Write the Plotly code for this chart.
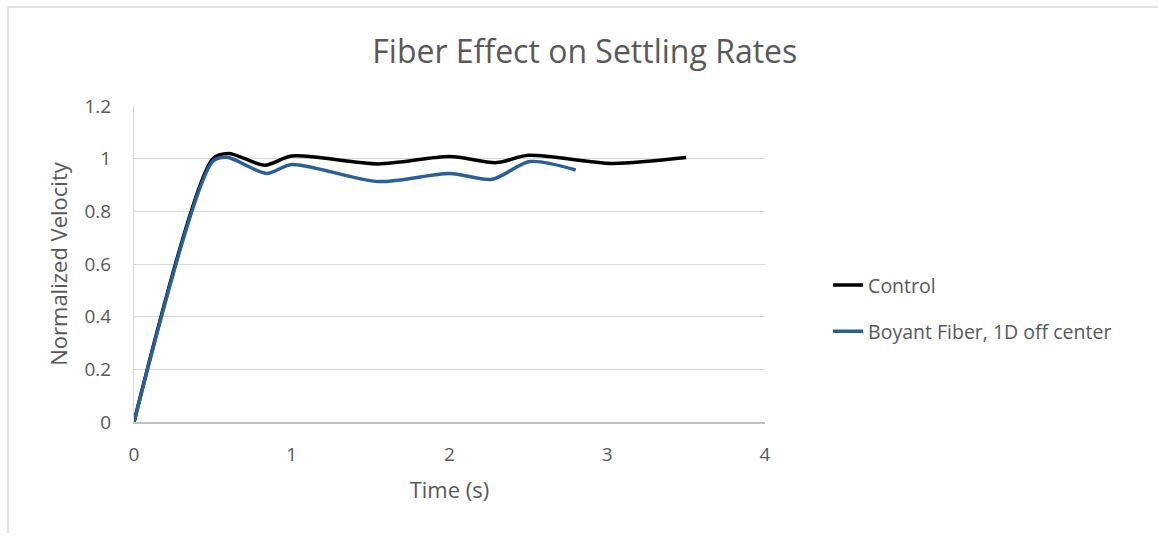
import plotly.graph_objects as go

# Settling velocity over time, normalized
control_t = [0, 0.5, 0.6, 0.83, 1.0, 1.55, 2.0, 2.3, 2.5, 3.03, 3.5]
control_v = [0, 1.0, 1.02, 0.975, 1.01, 0.98, 1.008, 0.985, 1.013, 0.982, 1.004]

fiber_t = [0, 0.5, 0.59, 0.84, 1.0, 1.55, 2.0, 2.27, 2.51, 2.8]
fiber_v = [0, 0.99, 1.005, 0.944, 0.978, 0.913, 0.944, 0.922, 0.989, 0.957]

x_ticks = [0, 1, 2, 3, 4]
y_ticks = [0, 0.2, 0.4, 0.6, 0.8, 1.0, 1.2]
y_tick_text = ["0", "0.2", "0.4", "0.6", "0.8", "1", "1.2"]

FONT = "Open Sans"
TEXT = "#595959"

fig = go.Figure()
fig.add_trace(go.Scatter(
    x=control_t, y=control_v, name="Control", mode="lines",
    line=dict(color="#000000", width=3.5, shape="spline", smoothing=0.8),
    legendgroup="a",
))
fig.add_trace(go.Scatter(
    x=fiber_t, y=fiber_v, name="Boyant Fiber, 1D off center", mode="lines",
    line=dict(color="#2a6099", width=3.5, shape="spline", smoothing=0.8),
    legendgroup="b",
))

fig.update_layout(
    width=1158, height=535,
    margin=dict(l=134, r=393, t=106, b=113),
    paper_bgcolor="white", plot_bgcolor="white",
    font=dict(family=FONT, color=TEXT, size=18),
    title=dict(text="Fiber Effect on Settling Rates", x=0.505, xanchor="center",
               y=0.903, yanchor="middle", font=dict(size=32, color=TEXT)),
    legend=dict(x=1.1, y=0.36, xanchor="left", yanchor="middle",
                font=dict(size=19.5, color=TEXT), tracegroupgap=18,
                bgcolor="rgba(0,0,0,0)"),
    xaxis=dict(
        range=[0, 4], tickvals=x_ticks, showgrid=False, zeroline=False,
        showline=True, linecolor="#bfbfbf", linewidth=1.5,
        ticks="outside", ticklen=14, tickcolor="rgba(0,0,0,0)",
        tickfont=dict(size=19, color=TEXT),
        title=dict(text="Time (s)", font=dict(size=22, color=TEXT), standoff=17),
    ),
    yaxis=dict(
        range=[0, 1.2], tickvals=y_ticks, ticktext=y_tick_text,
        showgrid=True, gridcolor="#d9d9d9", gridwidth=1.2, zeroline=False,
        showline=True, linecolor="#d9d9d9", linewidth=1.2,
        ticks="outside", ticklen=18, tickcolor="rgba(0,0,0,0)",
        tickfont=dict(size=19, color=TEXT),
        title=dict(text="Normalized Velocity", font=dict(size=22, color=TEXT), standoff=10),
    ),
)

# Chart-area frame (left and top edges)
px_w, px_h = 631.0, 316.0
left = (8 - 134) / px_w
top = (422 - 7) / px_h
bottom = (422 - 533) / px_h
right = (1170 - 134) / px_w
fig.add_shape(type="line", xref="paper", yref="paper", x0=left, x1=left, y0=bottom, y1=top,
              line=dict(color="#d9d9d9", width=1.5))
fig.add_shape(type="line", xref="paper", yref="paper", x0=left, x1=right, y0=top, y1=top,
              line=dict(color="#d9d9d9", width=1.5))

fig.write_html("out.html")
